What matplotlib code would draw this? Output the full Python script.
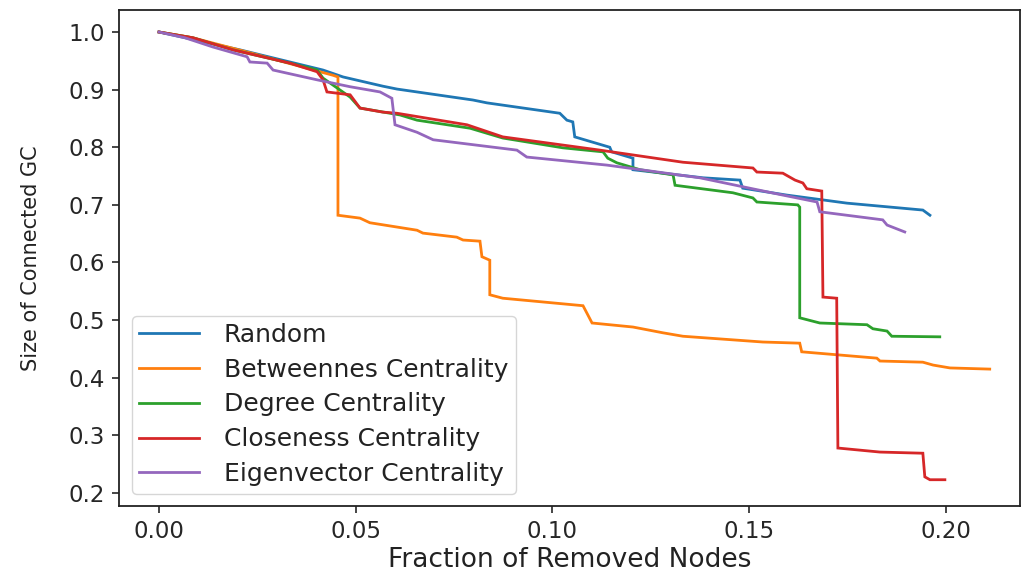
import matplotlib
matplotlib.use("Agg")
import matplotlib.pyplot as plt

# Attack strategies and the size of the giant component as nodes are removed
labels = ["Random", "Betweennes Centrality", "Degree Centrality",
          "Closeness Centrality", "Eigenvector Centrality"]

random_x = [0.0, 0.0206, 0.0417, 0.0468, 0.0569, 0.0605, 0.0798, 0.0834, 0.1019,
            0.1037, 0.1052, 0.1057, 0.1146, 0.1151, 0.1205, 0.1205, 0.1383, 0.1477,
            0.1484, 0.1596, 0.1749, 0.1942, 0.1960]
random_y = [1.0, 0.969, 0.934, 0.922, 0.906, 0.901, 0.882, 0.877, 0.859,
            0.847, 0.844, 0.818, 0.800, 0.792, 0.781, 0.761, 0.747, 0.743,
            0.729, 0.717, 0.703, 0.691, 0.682]

betw_x = [0.0, 0.0086, 0.0231, 0.0366, 0.0442, 0.0455, 0.0455, 0.0511, 0.0536,
          0.0656, 0.0671, 0.0757, 0.0773, 0.0816, 0.0821, 0.0841, 0.0841, 0.0874,
          0.1078, 0.1088, 0.1101, 0.1205, 0.1281, 0.1332, 0.1535, 0.1629, 0.1634,
          0.1825, 0.1833, 0.1942, 0.1968, 0.2011, 0.2112]
betw_y = [1.0, 0.990, 0.964, 0.939, 0.925, 0.922, 0.682, 0.677, 0.669,
          0.656, 0.651, 0.644, 0.639, 0.637, 0.610, 0.604, 0.544, 0.538,
          0.525, 0.512, 0.495, 0.488, 0.478, 0.472, 0.462, 0.460, 0.445,
          0.434, 0.429, 0.427, 0.422, 0.417, 0.415]

degree_x = [0.0, 0.0086, 0.0188, 0.0333, 0.0402, 0.0417, 0.0486, 0.0511, 0.0613,
            0.0656, 0.0791, 0.0874, 0.1027, 0.1129, 0.1141, 0.1164, 0.1223, 0.1307,
            0.1312, 0.1459, 0.1510, 0.1520, 0.1624, 0.1629, 0.1629, 0.1680, 0.1800,
            0.1815, 0.1851, 0.1863, 0.1985]
degree_y = [1.0, 0.990, 0.969, 0.946, 0.934, 0.920, 0.887, 0.868, 0.856,
            0.847, 0.833, 0.816, 0.799, 0.792, 0.781, 0.773, 0.761, 0.752,
            0.734, 0.721, 0.712, 0.705, 0.700, 0.696, 0.504, 0.495, 0.492,
            0.485, 0.481, 0.472, 0.471]

close_x = [0.0, 0.0086, 0.0188, 0.0333, 0.0402, 0.0417, 0.0427, 0.0486, 0.0511,
           0.0569, 0.0605, 0.0783, 0.0874, 0.1121, 0.1332, 0.1510, 0.1520, 0.1586,
           0.1617, 0.1637, 0.1647, 0.1685, 0.1688, 0.1723, 0.1726, 0.1833, 0.1942,
           0.1947, 0.1960, 0.1998]
close_y = [1.0, 0.990, 0.969, 0.946, 0.931, 0.917, 0.896, 0.891, 0.868,
           0.861, 0.859, 0.839, 0.818, 0.795, 0.774, 0.764, 0.757, 0.755,
           0.743, 0.738, 0.728, 0.724, 0.540, 0.538, 0.278, 0.271, 0.269,
           0.228, 0.223, 0.223]

eigen_x = [0.0, 0.0066, 0.0137, 0.0224, 0.0231, 0.0275, 0.0290, 0.0402, 0.0486,
           0.0562, 0.0592, 0.0600, 0.0656, 0.0697, 0.0910, 0.0935, 0.1139, 0.1375,
           0.1586, 0.1673, 0.1680, 0.1840, 0.1851, 0.1896]
eigen_y = [1.0, 0.990, 0.974, 0.957, 0.948, 0.946, 0.934, 0.917, 0.905,
           0.896, 0.885, 0.839, 0.826, 0.813, 0.795, 0.783, 0.769, 0.747,
           0.717, 0.705, 0.688, 0.674, 0.665, 0.653]

xticks = [0.00, 0.05, 0.10, 0.15, 0.20]
yticks = [0.2, 0.3, 0.4, 0.5, 0.6, 0.7, 0.8, 0.9, 1.0]

series = [(random_x, random_y), (betw_x, betw_y), (degree_x, degree_y),
          (close_x, close_y), (eigen_x, eigen_y)]
colors = ["#1f77b4", "#ff7f0e", "#2ca02c", "#d62728", "#9467bd"]

plt.rcParams["font.family"] = ["DejaVu Sans"]

fig = plt.figure(figsize=(10.23, 5.78), dpi=100)
ax = fig.add_axes([119 / 1023, 72 / 578, (1020 - 119) / 1023, (506 - 10) / 578])

for (xs, ys), lab, col in zip(series, labels, colors):
    ax.plot(xs, ys, color=col, lw=2.0, label=lab, solid_joinstyle="miter")

ax.set_xlim(-0.01017, 0.2189)
ax.set_ylim(0.1774, 1.0382)
ax.set_xticks(xticks)
ax.set_xticklabels([f"{v:.2f}" for v in xticks])
ax.set_yticks(yticks)
ax.set_yticklabels([f"{v:.1f}" for v in yticks])

for sp in ax.spines.values():
    sp.set_linewidth(1.3)
    sp.set_color("#222222")
ax.tick_params(axis="both", labelsize=16.5, colors="#262626", width=1.2,
               length=5, pad=5)

ax.set_xlabel("Fraction of Removed Nodes", fontsize=19, color="#222222", labelpad=3)
ax.set_ylabel("Size of Connected GC", fontsize=15, color="#222222", labelpad=20)

leg = ax.legend(loc="lower left", fontsize=18, labelspacing=0.43,
                handlelength=2.4, handletextpad=1.0, borderpad=0.3,
                borderaxespad=0.5, framealpha=0.8, edgecolor="#cccccc",
                fancybox=True)
for t in leg.get_texts():
    t.set_color("#222222")

fig.savefig("out.png", dpi=100)
